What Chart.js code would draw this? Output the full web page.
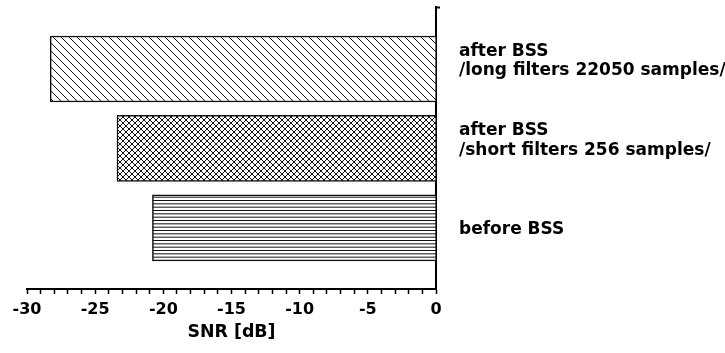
<!DOCTYPE html>
<html>
<head>
<meta charset="utf-8">
<script src="https://cdn.jsdelivr.net/npm/chart.js@4/dist/chart.umd.min.js"></script>
<style>
  html, body { margin: 0; padding: 0; background: #fff; }
  canvas { display: block; }
</style>
</head>
<body>
<canvas id="chart" width="725" height="353"></canvas>
<script>
'use strict';

// top to bottom
var categories = [
  ['after BSS', '/long filters 22050 samples/'],
  ['after BSS', '/short filters 256 samples/'],
  ['before BSS']
];
var snrValues = [-28.3, -23.4, -20.8];
var patterns = ['diagonal', 'cross', 'horizontal'];
var majorTicks = [-30, -25, -20, -15, -10, -5, 0];
var axisTitle = 'SNR [dB]';

// y range (in category index units) leaves some room above and below the bars
var yMin = -0.78;
var yMax = 2.77;

Chart.defaults.font.family = '"DejaVu Sans", sans-serif';
Chart.defaults.font.weight = 'bold';
Chart.defaults.color = '#000';

function makePattern(kind) {
  var c = document.createElement('canvas');
  var g = c.getContext('2d');
  if (kind === 'horizontal') {
    c.width = 4; c.height = 10;
    g.fillStyle = '#fff';
    g.fillRect(0, 0, 4, 10);
    g.fillStyle = '#111';
    for (var k = 0; k < 3; k++) {
      g.fillRect(0, k * 10 / 3, 4, 1);
    }
  } else {
    var s = kind === 'cross' ? 6 : 8;
    c.width = s; c.height = s;
    g.fillStyle = '#fff';
    g.fillRect(0, 0, s, s);
    g.strokeStyle = '#111';
    g.lineWidth = 1;
    g.beginPath();
    g.moveTo(-1, -1); g.lineTo(s + 1, s + 1);
    g.moveTo(-1, s - 1); g.lineTo(1, s + 1);
    g.moveTo(s - 1, -1); g.lineTo(s + 1, 1);
    if (kind === 'cross') {
      g.moveTo(-1, s + 1); g.lineTo(s + 1, -1);
      g.moveTo(-1, 1); g.lineTo(1, -1);
      g.moveTo(s - 1, s + 1); g.lineTo(s + 1, s - 1);
    }
    g.stroke();
  }
  return g.createPattern(c, 'repeat');
}

var points = [];
for (var i = 0; i < snrValues.length; i++) {
  points.push({ x: snrValues[i], y: i });
}

var ctx = document.getElementById('chart').getContext('2d');

var chart = new Chart(ctx, {
  type: 'bar',
  data: {
    datasets: [{
      data: points,
      backgroundColor: patterns.map(makePattern),
      borderColor: '#111',
      borderWidth: 1.5,
      barThickness: 66
    }]
  },
  options: {
    indexAxis: 'y',
    responsive: false,
    animation: false,
    layout: { padding: { left: 27, top: 7, right: 0, bottom: 0 } },
    plugins: {
      legend: { display: false },
      tooltip: { enabled: false }
    },
    scales: {
      x: {
        type: 'linear',
        min: -30,
        max: 0,
        z: 1,
        border: { color: '#000', width: 2 },
        grid: {
          drawOnChartArea: false,
          tickLength: 5,
          tickWidth: 1.5,
          color: '#000'
        },
        ticks: {
          stepSize: 1,
          autoSkip: false,
          maxRotation: 0,
          padding: 6,
          font: { size: 16 },
          callback: function (v) {
            return majorTicks.indexOf(v) >= 0 ? String(v) : '';
          }
        },
        title: {
          display: true,
          text: axisTitle,
          font: { size: 17.4 },
          padding: { top: 2, bottom: 10 }
        },
        afterFit: function (scale) { scale.height = 64; }
      },
      y: {
        type: 'linear',
        position: 'right',
        reverse: true,
        offset: false,
        min: yMin,
        max: yMax,
        z: 1,
        border: { color: '#000', width: 2 },
        grid: {
          drawOnChartArea: false,
          offset: false,
          tickLength: 4,
          tickWidth: 2,
          color: function (c) {
            return c.tick && c.tick.value === yMin ? '#000' : 'rgba(0,0,0,0)';
          }
        },
        afterBuildTicks: function (scale) {
          scale.ticks = [{ value: yMin }];
          for (var j = 0; j < categories.length; j++) {
            scale.ticks.push({ value: j });
          }
        },
        ticks: {
          padding: 19,
          labelOffset: 2,
          font: { size: 17, lineHeight: 1.15 },
          callback: function (v) {
            var lines = categories[v];
            if (!lines) return '';
            // two-line labels sit a little above the bar centre in the original
            return lines.length > 1 ? lines.concat(['']) : lines;
          }
        },
        afterFit: function (scale) {
          scale.width = 289;
          scale.paddingTop = 0;
          scale.paddingBottom = 0;
        }
      }
    }
  }
});
</script>
</body>
</html>
